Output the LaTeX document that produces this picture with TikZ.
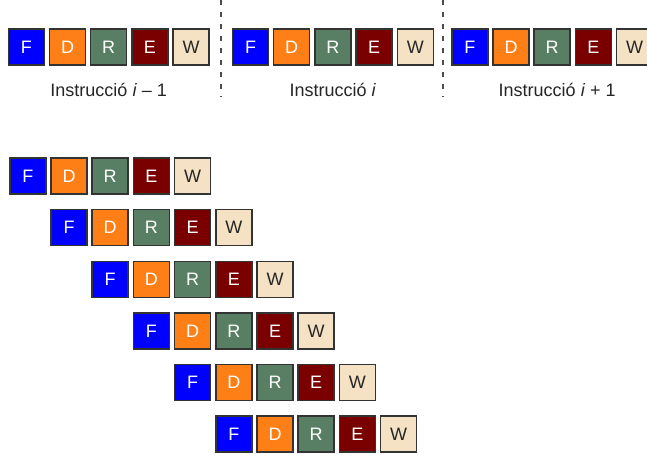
\documentclass[tikz,border=0pt]{standalone}
\usepackage{fontspec}
\setmainfont{Liberation Sans}
\usepackage{tikz}
\usetikzlibrary{positioning}

\definecolor{fetchblue}{RGB}{0,0,255}
\definecolor{decorange}{RGB}{255,127,23}
\definecolor{regsgreen}{RGB}{88,127,100}
\definecolor{execred}{RGB}{122,0,0}
\definecolor{wbbeige}{RGB}{245,226,196}

\begin{document}
\begin{tikzpicture}[
  x=0.5pt, y=-0.5pt,
  node distance = 7.8pt and 2.6pt,
  every node/.style = {font=\fontsize{9}{11}\selectfont},
  stage/.style = {draw=black!80, line width=0.75pt, minimum size=18pt,
                  inner sep=0pt, outer sep=0pt, text=white},
  sF/.style  = {stage, fill=fetchblue},
  sD/.style  = {stage, fill=decorange},
  sR/.style  = {stage, fill=regsgreen},
  sE/.style  = {stage, fill=execred},
  sW/.style  = {stage, fill=wbbeige, text=black!85},
  lbl/.style = {anchor=base, yshift=-15.8pt, text=black!85},
  sep/.style = {draw=black!70, line width=1pt, dash pattern=on 2.5pt off 3.5pt},
]
\clip (0,0) rectangle (647,454);

%% ---------- TRES INSTRUCCIONS ----------
\node[sF] (a1) at (26.3,47.1) {F};
\node[sD, right=of a1] (a2) {D}; \node[sR, right=of a2] (a3) {R};
\node[sE, right=of a3] (a4) {E}; \node[sW, right=of a4] (a5) {W};
\node[lbl] (La) at (a3.south) {Instrucció \textit{i} – 1};

\node[sF] (b1) at (250.5,47.1) {F};
\node[sD, right=of b1] (b2) {D}; \node[sR, right=of b2] (b3) {R};
\node[sE, right=of b3] (b4) {E}; \node[sW, right=of b4] (b5) {W};
\node[lbl] (Lb) at (b3.south) {Instrucció \textit{i}};

\node[sF] (c1) at (469.8,47.1) {F};
\node[sD, right=of c1] (c2) {D}; \node[sR, right=of c2] (c3) {R};
\node[sE, right=of c3] (c4) {E}; \node[sW, right=of c4] (c5) {W};
\node[lbl, xshift=2.5pt] (Lc) at (c3.south) {Instrucció \textit{i} + 1};

\draw[sep] (221,0) -- (221,97);
\draw[sep] (442.8,0) -- (442.8,97);

%% ---------- PIPELINE ----------
\node[sF] (r1f) at (27.8,176.1) {F};
\node[sD, right=of r1f] (r1d) {D}; \node[sR, right=of r1d] (r1r) {R};
\node[sE, right=of r1r] (r1e) {E}; \node[sW, right=of r1e] (r1w) {W};

\node[sF, below=of r1d] (r2f) {F};
\node[sD, right=of r2f] (r2d) {D}; \node[sR, right=of r2d] (r2r) {R};
\node[sE, right=of r2r] (r2e) {E}; \node[sW, right=of r2e] (r2w) {W};

\node[sF, below=of r2d] (r3f) {F};
\node[sD, right=of r3f] (r3d) {D}; \node[sR, right=of r3d] (r3r) {R};
\node[sE, right=of r3r] (r3e) {E}; \node[sW, right=of r3e] (r3w) {W};

\node[sF, below=of r3d] (r4f) {F};
\node[sD, right=of r4f] (r4d) {D}; \node[sR, right=of r4d] (r4r) {R};
\node[sE, right=of r4r] (r4e) {E}; \node[sW, right=of r4e] (r4w) {W};

\node[sF, below=of r4d] (r5f) {F};
\node[sD, right=of r5f] (r5d) {D}; \node[sR, right=of r5d] (r5r) {R};
\node[sE, right=of r5r] (r5e) {E}; \node[sW, right=of r5e] (r5w) {W};

\node[sF, below=of r5d] (r6f) {F};
\node[sD, right=of r6f] (r6d) {D}; \node[sR, right=of r6d] (r6r) {R};
\node[sE, right=of r6r] (r6e) {E}; \node[sW, right=of r6e] (r6w) {W};

\end{tikzpicture}
\end{document}
